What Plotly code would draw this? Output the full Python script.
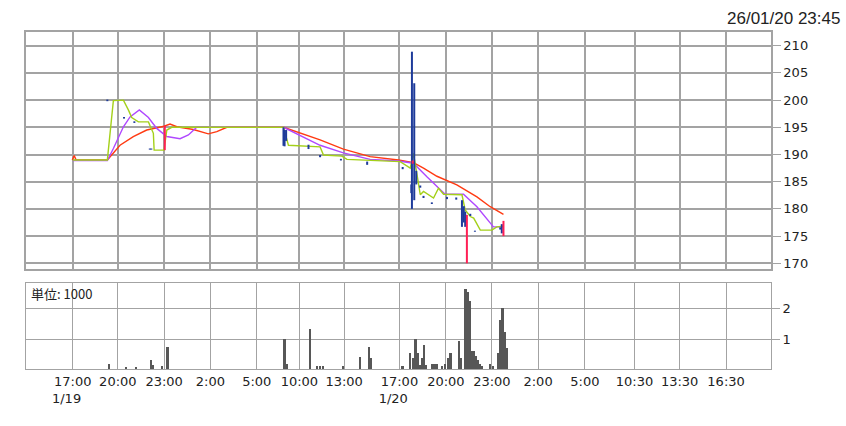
import plotly.graph_objects as go

# ---- data (x = trading-hour slot index, y = price) ----
tick_pos = [3.03, 5.95, 8.95, 11.94, 14.95, 17.71, 20.61, 24.19, 27.2, 30.18, 33.17, 36.2, 39.42, 42.34, 45.35]
tick_txt = ["17:00<br>1/19&nbsp;&nbsp;&nbsp;", "20:00", "23:00", "2:00", "5:00", "10:00", "13:00",
            "17:00<br>1/20&nbsp;&nbsp;&nbsp;", "20:00", "23:00", "2:00", "5:00", "10:30", "13:30", "16:30"]
price_ticks = [170, 175, 180, 185, 190, 195, 200, 205, 210]
vol_ticks = [1, 2]

red_x = [3.0, 3.12, 3.25, 5.27, 6.09, 6.95, 7.82, 8.36, 8.94, 9.33, 9.77, 10.84, 11.81, 12.36, 13.01, 16.68,
         17.76, 19.05, 20.56, 22.29, 24.13, 25.10, 25.75, 26.62, 27.91, 29.21, 30.07, 30.93]
red_y = [189.0, 189.8, 189.0, 189.0, 191.7, 193.3, 194.5, 194.8, 195.2, 195.6, 195.1, 194.6, 193.8, 194.2, 195.0, 195.0,
         194.0, 192.7, 191.0, 189.6, 189.0, 188.5, 187.5, 186.0, 184.4, 182.2, 180.4, 179.0]

purple_x = [3.03, 5.27, 5.66, 6.31, 6.74, 7.34, 7.93, 8.47, 9.12, 9.98, 10.52, 11.06, 16.68, 19.05, 20.56, 22.29,
            24.13, 25.10, 25.97, 26.62, 27.15, 28.34, 29.21, 30.28, 30.93]
purple_y = [188.9, 188.9, 191.1, 195.1, 196.9, 198.2, 196.8, 194.8, 193.3, 192.9, 193.6, 195.0, 195.0, 191.7, 190.3, 189.1,
            188.8, 188.4, 185.9, 184.1, 182.7, 182.7, 180.4, 176.7, 176.7]

green_x = [3.03, 5.27, 5.66, 6.31, 6.63, 6.85, 7.28, 7.93, 8.25, 8.3, 8.94, 9.12, 9.44, 16.68, 17.0, 18.2, 19.05,
           19.27, 20.46, 20.79, 21.87, 24.24, 24.89, 25.10, 25.32, 25.54, 25.75, 26.07, 26.40, 26.72, 27.05,
           28.24, 28.45, 28.78, 29.0, 29.43, 30.18, 30.5, 30.89]
green_y = [189.0, 189.0, 199.9, 200.0, 198.2, 196.8, 196.0, 196.0, 193.9, 190.8, 190.8, 194.5, 195.0, 195.0, 191.7, 191.6, 191.4,
           189.9, 189.7, 189.1, 189.0, 188.7, 187.5, 190.2, 186.5, 182.6, 183.2, 182.6, 182.0, 183.8, 182.7,
           182.6, 179.8, 178.6, 178.3, 176.1, 176.1, 176.7, 176.8]

blue_x = [5.27, 6.35, 7.02, 8.02, 8.12, 16.68, 16.75, 16.85, 18.3, 19.05, 20.4, 22.1, 24.4, 24.96, 25.0, 25.15,
          25.28, 25.54, 25.75, 26.29, 27.27, 27.87, 28.24, 28.36, 28.45, 28.78, 29.08, 30.72, 30.82]
blue_lo = [199.8, 196.6, 195.8, 190.9, 190.9, 191.6, 191.5, 192.5, 191.0, 189.5, 188.9, 188.1, 187.3, 182.9, 180.0, 181.6,
           184.5, 183.9, 182.0, 180.9, 181.8, 181.7, 176.7, 177.5, 176.7, 178.7, 175.8, 176.2, 175.5]
blue_hi = [200.1, 196.9, 196.1, 191.1, 191.1, 195.0, 194.5, 194.5, 191.8, 189.9, 189.2, 188.7, 187.7, 184.5, 208.9, 203.1,
           187.0, 184.3, 182.4, 181.2, 182.2, 182.1, 181.6, 180.5, 179.5, 179.1, 176.0, 176.6, 177.2]

pink_x = [8.99, 25.05, 28.56, 30.93]
pink_lo = [190.8, 188.3, 170.0, 175.0]
pink_hi = [195.3, 188.9, 178.9, 177.8]

vol_x = [5.40, 6.48, 7.13, 8.10, 8.25, 8.79, 9.16, 16.75, 16.93, 18.41, 18.84, 19.03, 19.23, 20.53, 21.65, 22.21, 22.34,
         24.39, 24.89, 25.06, 25.23, 25.36, 25.49, 25.64, 25.79, 25.92, 26.33, 26.47, 26.62, 26.94, 27.15, 27.33, 27.50,
         28.04, 28.17, 28.47, 28.60, 28.73, 28.86, 28.99, 29.12, 29.25, 29.38, 29.51, 30.07, 30.24, 30.61, 30.74, 30.87,
         31.00, 31.13]
vol_y = [0.23, 0.14, 0.14, 0.36, 0.18, 0.15, 0.75, 1.0, 0.23, 1.34, 0.16, 0.16, 0.16, 0.16, 0.44, 0.75, 0.40,
         0.16, 0.56, 0.40, 1.0, 0.58, 0.18, 0.40, 0.83, 0.18, 0.23, 0.23, 0.23, 0.16, 0.23, 0.40, 0.56,
         0.95, 0.40, 2.60, 2.52, 2.21, 0.63, 0.63, 0.47, 0.36, 0.23, 0.16, 0.23, 0.16, 0.56, 1.61, 2.0,
         1.23, 0.74]


def segs(xs, lo, hi):
    sx, sy = [], []
    for a, b, c in zip(xs, lo, hi):
        sx += [a, a, None]
        sy += [b, c, None]
    return sx, sy


GRID = "#a3a3a3"
FONT = "DejaVu Sans"

fig = go.Figure()
fig.add_trace(go.Scatter(x=red_x, y=red_y, mode="lines", line=dict(color="#ff3a12", width=1.4), xaxis="x", yaxis="y"))
fig.add_trace(go.Scatter(x=purple_x, y=purple_y, mode="lines", line=dict(color="#b048ff", width=1.4), xaxis="x", yaxis="y"))
fig.add_trace(go.Scatter(x=green_x, y=green_y, mode="lines", line=dict(color="#a4d01a", width=1.4), xaxis="x", yaxis="y"))
bx, by = segs(blue_x, blue_lo, blue_hi)
fig.add_trace(go.Scatter(x=bx, y=by, mode="lines", line=dict(color="#1e3b9a", width=2), xaxis="x", yaxis="y"))
px_, py_ = segs(pink_x, pink_lo, pink_hi)
fig.add_trace(go.Scatter(x=px_, y=py_, mode="lines", line=dict(color="#ff1f55", width=2), xaxis="x", yaxis="y"))
fig.add_trace(go.Bar(x=vol_x, y=vol_y, width=0.145, marker=dict(color="#575757", line=dict(width=0)),
                     xaxis="x2", yaxis="y2"))

axis_common = dict(showgrid=True, gridcolor=GRID, showline=True, linecolor=GRID, mirror=True, zeroline=False)

fig.update_layout(
    width=846, height=426,
    margin=dict(l=26, r=75, t=32, b=57, autoexpand=False),
    paper_bgcolor="white", plot_bgcolor="white",
    showlegend=False, bargap=0,
    font=dict(family=FONT, size=13, color="#222"),
    xaxis=dict(domain=[0, 1], range=[0, 48.26], anchor="y", tickvals=tick_pos, showticklabels=False,
               gridwidth=1.5, linewidth=1.5, ticks="", **axis_common),
    yaxis=dict(domain=[0.2967, 1], range=[168.95, 212.52], side="right", tickvals=price_ticks,
               ticks="outside", ticklen=8, tickcolor=GRID, gridwidth=1.5, linewidth=1.5, **axis_common),
    xaxis2=dict(domain=[0, 1], range=[0, 48.26], anchor="y2", tickvals=tick_pos, ticktext=tick_txt,
                ticks="", gridwidth=1, linewidth=1, **axis_common),
    yaxis2=dict(domain=[0, 0.254], range=[0.076, 2.79], side="right", tickvals=vol_ticks, anchor="x2",
                ticks="outside", ticklen=8, tickcolor=GRID, gridwidth=1, linewidth=1, **axis_common),
    annotations=[
        dict(text="26/01/20 23:45", xref="paper", yref="paper", x=1.0957, y=1.0, xanchor="right", yanchor="bottom",
             yshift=2, showarrow=False, font=dict(family="Liberation Sans", size=17, color="#222")),
        dict(text="単位: 1000", xref="paper", yref="paper", x=0.004, y=0.2255, xanchor="left", yanchor="middle",
             showarrow=False, font=dict(family="Noto Sans CJK JP", size=13, color="#222")),
    ],
)

fig.write_html("out.html", config={"displayModeBar": False},
               post_script="document.body.style.margin='0';document.body.style.overflow='hidden';")
